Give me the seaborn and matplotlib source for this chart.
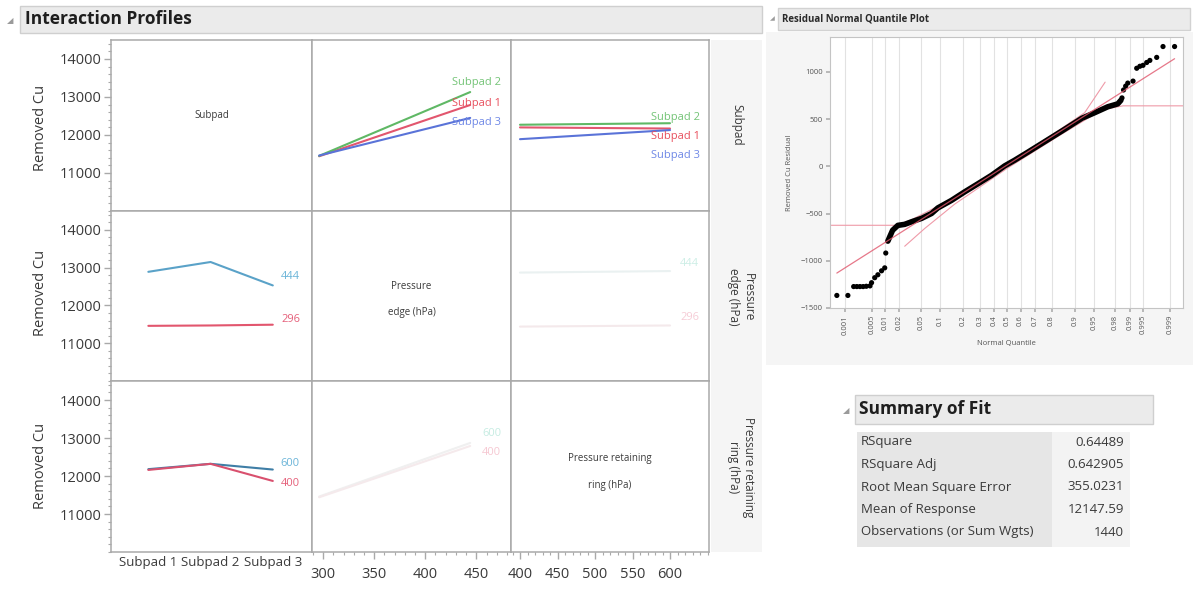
import matplotlib
matplotlib.use("Agg")
import matplotlib.pyplot as plt
import pandas as pd
import seaborn as sns
from statistics import NormalDist
from matplotlib.patches import Rectangle
from matplotlib.ticker import MultipleLocator, FixedLocator, NullLocator
from matplotlib.transforms import blended_transform_factory

sns.set_theme(style="white")
plt.rcParams["font.family"] = ["Open Sans", "DejaVu Sans"]

W, H = 1193, 590

# ---- interaction profile data (Removed Cu) ----
subpads = ["Subpad 1", "Subpad 2", "Subpad 3"]
edge_levels = [296, 444]
ring_levels = [400, 600]

# row 1: one line per subpad
edge_by_subpad_1 = [11440, 12790]
edge_by_subpad_2 = [11450, 13130]
edge_by_subpad_3 = [11460, 12450]
ring_by_subpad_1 = [12200, 12170]
ring_by_subpad_2 = [12270, 12310]
ring_by_subpad_3 = [11890, 12130]

# row 2: one line per pressure edge level
subpad_by_edge_444 = [12890, 13150, 12530]
subpad_by_edge_296 = [11460, 11470, 11490]
ring_by_edge_444 = [12870, 12910]
ring_by_edge_296 = [11440, 11470]

# row 3: one line per retaining ring level
subpad_by_ring_600 = [12180, 12320, 12170]
subpad_by_ring_400 = [12160, 12320, 11870]
edge_by_ring_600 = [11460, 12870]
edge_by_ring_400 = [11440, 12790]

# ---- residual normal quantile data ----
qq_lo_z = [-3.24, -3.03, -2.92, -2.86, -2.80, -2.74, -2.68, -2.61, -2.58, -2.52, -2.46, -2.39, -2.33, -2.31]
qq_lo_r = [-1367, -1367, -1273, -1273, -1273, -1273, -1270, -1266, -1232, -1179, -1148, -1106, -1075, -918]
qq_body_z = [-2.27, -2.23, -2.18, -2.08, -1.95, -1.80, -1.63, -1.44, -1.32, -1.06, -0.81, -0.56,
             -0.30, -0.05, 0.14, 0.39, 1.04, 1.42, 1.66, 1.91, 2.10, 2.16]
qq_body_r = [-792, -740, -677, -625, -614, -583, -551, -499, -440, -360, -270, -185,
             -95, 5, 65, 150, 375, 510, 568, 631, 662, 700]
qq_hi_z = [2.18, 2.21, 2.25, 2.29, 2.39, 2.46, 2.52, 2.58, 2.65, 2.71, 2.84, 2.96, 3.18]
qq_hi_r = [725, 809, 850, 882, 903, 1039, 1060, 1070, 1100, 1122, 1154, 1269, 1269]
fit_z = [-3.24, 3.18]
fit_r = [-1130, 1140]
band_up_z = [-3.37, -2.10, -1.80, -1.00, 0.00, 1.00, 1.47, 1.86]
band_up_r = [-624, -624, -560, -330, 20, 390, 568, 892]
band_lo_z = [-1.95, -1.57, -1.00, 0.00, 1.00, 1.80, 2.20, 3.34]
band_lo_r = [-846, -658, -400, -20, 330, 600, 641, 641]
qq_probs = [0.001, 0.005, 0.01, 0.02, 0.05, 0.1, 0.2, 0.3, 0.4, 0.5, 0.6, 0.7, 0.8,
            0.9, 0.95, 0.98, 0.99, 0.995, 0.999]

# ---- summary of fit ----
fit_labels = ["RSquare", "RSquare Adj", "Root Mean Square Error", "Mean of Response",
              "Observations (or Sum Wgts)"]
fit_values = ["0.64489", "0.642905", "355.0231", "12147.59", "1440"]

C_RED, C_GRN, C_BLU = "#e2566e", "#5fb865", "#5a73d8"
C_TEAL = "#5aa2c8"
GRAY_SPINE = "#a9a9a9"
TXT = "#3a3a3a"


def rect(x0, y0, x1, y1):
    return [x0 / W, 1 - y1 / H, (x1 - x0) / W, (y1 - y0) / H]


def profile(ax, xs, lines, colors, labels, label_x, label_colors, lw=1.5):
    rows = [{"x": x, "cu": v, "lvl": name}
            for name, vals in lines.items() for x, v in zip(xs, vals)]
    df = pd.DataFrame(rows)
    sns.lineplot(data=df, x="x", y="cu", hue="lvl", palette=colors, legend=False,
                 sort=False, lw=lw, ax=ax)
    tr = blended_transform_factory(ax.transAxes, ax.transData)
    for name, ly in labels.items():
        ax.text(label_x, ly, name, transform=tr, ha="right", va="center",
                fontsize=8, color=label_colors[name])


fig = plt.figure(figsize=(W / 100, H / 100), dpi=100)

bg = fig.add_axes([0, 0, 1, 1], zorder=-1)
bg.set_xlim(0, W)
bg.set_ylim(H, 0)
bg.axis("off")

# header bars and backgrounds
bg.add_patch(Rectangle((20, 6), 742, 27, fc="#ebebeb", ec="#cfcfcf", lw=1))
bg.text(7, 21, "◢", fontsize=6, color="#9a9a9a", va="center", family="DejaVu Sans")
bg.text(25, 19.5, "Interaction Profiles", fontsize=12.5, fontweight="bold",
        color="#1e1e1e", va="center")
bg.add_patch(Rectangle((711, 40), 51, 512, fc="#f5f5f5", ec="none"))
bg.add_patch(Rectangle((766, 32), 427, 333, fc="#f5f5f5", ec="none"))
bg.add_patch(Rectangle((778, 8), 412, 22, fc="#ebebeb", ec="#d2d2d2", lw=1))
bg.text(770, 19, "◢", fontsize=4.5, color="#9a9a9a", va="center", family="DejaVu Sans")
bg.text(782, 19, "Residual Normal Quantile Plot", fontsize=7, fontweight="bold",
        color="#2a2a2a", va="center")

# summary of fit table
bg.add_patch(Rectangle((855, 395), 298, 29, fc="#ebebeb", ec="#cfcfcf", lw=1))
bg.text(843, 411, "◢", fontsize=6, color="#9a9a9a", va="center", family="DejaVu Sans")
bg.text(859, 409, "Summary of Fit", fontsize=12.5, fontweight="bold",
        color="#1e1e1e", va="center")
bg.add_patch(Rectangle((857, 432), 195, 115, fc="#e6e6e6", ec="none"))
bg.add_patch(Rectangle((1052, 432), 78, 115, fc="#f3f3f3", ec="none"))
for i, (lab, val) in enumerate(zip(fit_labels, fit_values)):
    y = 442 + 22.5 * i
    bg.text(861, y, lab, fontsize=9.5, color=TXT, va="center")
    bg.text(1124, y, val, fontsize=9.5, color=TXT, va="center", ha="right")

# right-hand strip labels
bg.text(737, 125, "Subpad", rotation=270, fontsize=8.5, color=TXT, ha="center", va="center")
bg.text(741, 297, "Pressure\nedge (hPa)", rotation=270, fontsize=8.5, color=TXT,
        ha="center", va="center", linespacing=1.2)
bg.text(741, 467, "Pressure retaining\nring (hPa)", rotation=270, fontsize=8.5, color=TXT,
        ha="center", va="center", linespacing=1.2)

# ---- interaction grid ----
col_edges = [111, 312, 511, 709]
row_edges = [40, 211, 381, 552]
xlims = [(-0.6, 2.63), (289, 484), (388, 652)]
axes = [[None] * 3 for _ in range(3)]
for r in range(3):
    for c in range(3):
        ax = fig.add_axes(rect(col_edges[c], row_edges[r], col_edges[c + 1], row_edges[r + 1]))
        ax.set_facecolor("white")
        for s in ax.spines.values():
            s.set_color(GRAY_SPINE)
            s.set_linewidth(1.1)
        axes[r][c] = ax

pal_sub = {"Subpad 1": C_RED, "Subpad 2": C_GRN, "Subpad 3": C_BLU}
lab_sub = {"Subpad 1": "#e8505e", "Subpad 2": "#74c477", "Subpad 3": "#6f88e6"}

profile(axes[0][1], edge_levels,
        {"Subpad 1": edge_by_subpad_1, "Subpad 2": edge_by_subpad_2, "Subpad 3": edge_by_subpad_3},
        pal_sub, {"Subpad 2": 13370, "Subpad 1": 12840, "Subpad 3": 12340}, 0.95, lab_sub)
profile(axes[0][2], ring_levels,
        {"Subpad 1": ring_by_subpad_1, "Subpad 2": ring_by_subpad_2, "Subpad 3": ring_by_subpad_3},
        pal_sub, {"Subpad 2": 12470, "Subpad 1": 11950, "Subpad 3": 11470}, 0.955, lab_sub)

profile(axes[1][0], subpads, {"444": subpad_by_edge_444, "296": subpad_by_edge_296},
        {"444": C_TEAL, "296": C_RED}, {"444": 12760, "296": 11630}, 0.94,
        {"444": "#6ab4d8", "296": "#e5607a"})
profile(axes[1][2], ring_levels, {"444": ring_by_edge_444, "296": ring_by_edge_296},
        {"444": "#eaf1f1", "296": "#f4e9eb"}, {"444": 13100, "296": 11680}, 0.95,
        {"444": "#cdeee6", "296": "#f6ccd6"})

profile(axes[2][0], subpads, {"600": subpad_by_ring_600, "400": subpad_by_ring_400},
        {"600": "#3f7ea6", "400": "#d9506e"}, {"600": 12320, "400": 11810}, 0.94,
        {"600": "#6ab4d8", "400": "#e5607a"})
profile(axes[2][1], edge_levels, {"600": edge_by_ring_600, "400": edge_by_ring_400},
        {"600": "#f0f0f0", "400": "#f5eaec"}, {"600": 13130, "400": 12630}, 0.95,
        {"600": "#c6ece2", "400": "#f6c8d2"})

# diagonal titles
diag = {0: "Subpad", 1: "Pressure\n\nedge (hPa)", 2: "Pressure retaining\n\nring (hPa)"}
diag_y = {0: 0.56, 1: 0.48, 2: 0.47}
for i in range(3):
    axes[i][i].text(0.5, diag_y[i], diag[i], transform=axes[i][i].transAxes, ha="center",
                    va="center", fontsize=7, color=TXT, linespacing=1.3)

for r in range(3):
    for c in range(3):
        ax = axes[r][c]
        ax.set_xlim(*xlims[c])
        ax.set_ylim(10000, 14500)
        ax.set_xlabel("")
        ax.set_ylabel("")
        if c == 0:
            ax.yaxis.set_major_locator(FixedLocator([11000, 12000, 13000, 14000]))
            ax.yaxis.set_minor_locator(MultipleLocator(200))
            ax.tick_params(axis="y", which="major", direction="out", length=5, width=1,
                           color=GRAY_SPINE, labelsize=10.5, labelcolor=TXT, pad=2, left=True)
            ax.tick_params(axis="y", which="minor", direction="out", length=2.5, width=0.8,
                           color=GRAY_SPINE, left=True)
            ax.yaxis.set_major_formatter(matplotlib.ticker.FuncFormatter(lambda v, p: f"{v:.0f}"))
        else:
            ax.yaxis.set_major_locator(NullLocator())
            ax.yaxis.set_minor_locator(NullLocator())
        if r == 2 and c > 0:
            ax.xaxis.set_major_locator(FixedLocator([300, 350, 400, 450] if c == 1
                                                    else [400, 450, 500, 550, 600]))
            ax.xaxis.set_minor_locator(MultipleLocator(10))
            ax.tick_params(axis="x", which="major", direction="out", length=5, width=1,
                           color=GRAY_SPINE, labelsize=10.5, labelcolor=TXT, pad=6, bottom=True)
            ax.tick_params(axis="x", which="minor", direction="out", length=2.5, width=0.8,
                           color=GRAY_SPINE, bottom=True)
        elif r == 2 and c == 0:
            ax.set_xticks(range(3))
            ax.set_xticklabels(subpads)
            ax.tick_params(axis="x", length=0, labelsize=9.5, labelcolor=TXT, pad=3)
        else:
            ax.xaxis.set_major_locator(NullLocator())
            ax.xaxis.set_minor_locator(NullLocator())
    fig.text(40 / W, 1 - [128, 293, 466][r] / H, "Removed Cu", rotation=90, fontsize=10.5,
             color=TXT, ha="center", va="center")

# ---- residual normal quantile plot ----
qq = fig.add_axes(rect(830, 37, 1183, 308))
qq.set_facecolor("white")
qz = [NormalDist().inv_cdf(p) for p in qq_probs]
for zv in qz:
    qq.axvline(zv, color="#e2e2e2", lw=0.8, zorder=0)
sns.lineplot(x=band_up_z, y=band_up_r, color="#ef9aa8", lw=0.8, sort=False, ax=qq, zorder=1)
sns.lineplot(x=band_lo_z, y=band_lo_r, color="#ef9aa8", lw=0.8, sort=False, ax=qq, zorder=1)
sns.lineplot(x=qq_body_z, y=qq_body_r, color="black", lw=4, sort=False, ax=qq, zorder=2)
sns.scatterplot(x=qq_lo_z + qq_hi_z, y=qq_lo_r + qq_hi_r, color="black", s=14,
                edgecolor="none", ax=qq, zorder=3)
sns.lineplot(x=fit_z, y=fit_r, color="#e0566c", lw=0.9, alpha=0.8, ax=qq, zorder=4)
qq.set_xlim(-3.37, 3.34)
qq.set_ylim(-1470, 1370)
qq.set_xticks(qz)
qq.set_xticklabels([f"{p:g}" for p in qq_probs], rotation=90)
qq.set_yticks([-1500, -1000, -500, 0, 500, 1000])
qq.tick_params(axis="both", labelsize=5.5, labelcolor="#555555", length=3, color="#b0b0b0",
               direction="out", bottom=True, left=True, pad=2)
qq.set_xlabel("Normal Quantile", fontsize=5.5, color="#555555", labelpad=4)
qq.set_ylabel("Removed Cu Residual", fontsize=5.5, color="#555555", labelpad=6)
for s in qq.spines.values():
    s.set_color("#c4c4c4")
    s.set_linewidth(0.8)

fig.savefig("out.png", dpi=100, facecolor="white")
